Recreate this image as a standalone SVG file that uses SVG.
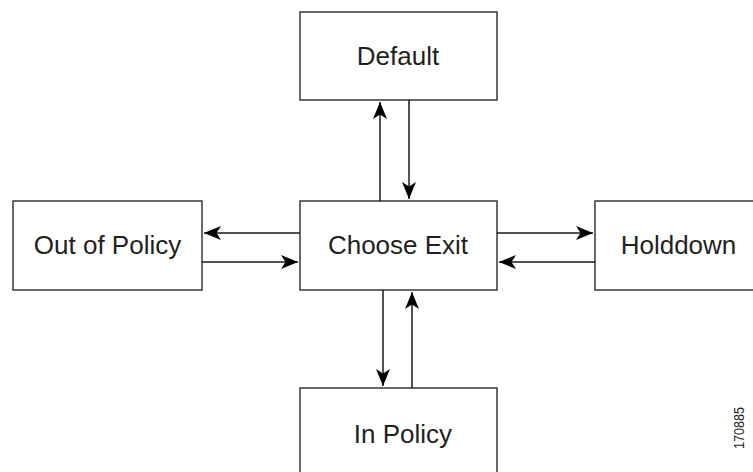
<svg xmlns="http://www.w3.org/2000/svg" width="753" height="472" viewBox="0 0 753 472">
<style>
.box{fill:#fff;stroke:#2a2a2a;stroke-width:1.4}
.lbl{font-family:"Liberation Sans",Arial,Helvetica,sans-serif;font-size:26px;fill:#231f20;text-anchor:middle}
.con{stroke:#1a1a1a;stroke-width:1.5;fill:none;marker-end:url(#ah)}
.fig{font-family:"Liberation Sans",Arial,Helvetica,sans-serif;font-size:15px;fill:#231f20;text-anchor:middle}
</style>
<defs>
<marker id="ah" markerUnits="userSpaceOnUse" markerWidth="19" markerHeight="16" refX="17" refY="8" orient="auto">
<path d="M0,1 L17,8 L0,15 L4.5,8 Z" fill="#000"/>
</marker>
</defs>
<rect width="753" height="472" fill="#fff"/>
<g id="default"><rect class="box" x="300" y="12" width="197" height="88"/><text class="lbl" x="398" y="65">Default</text></g>
<g id="choose-exit"><rect class="box" x="300" y="201" width="197" height="89"/><text class="lbl" x="398" y="254">Choose Exit</text></g>
<g id="out-of-policy"><rect class="box" x="13" y="201" width="189" height="89"/><text class="lbl" x="107.5" y="254">Out of Policy</text></g>
<g id="holddown"><rect class="box" x="595" y="201" width="170" height="89"/><text class="lbl" x="678.5" y="254">Holddown</text></g>
<g id="in-policy"><rect class="box" x="300" y="388" width="197" height="100"/><text class="lbl" x="403" y="443">In Policy</text></g>
<g id="connectors">
<line class="con" x1="380" y1="201" x2="380" y2="102"/>
<line class="con" x1="409" y1="100" x2="409" y2="199"/>
<line class="con" x1="300" y1="233" x2="204" y2="233"/>
<line class="con" x1="202" y1="262" x2="298" y2="262"/>
<line class="con" x1="497" y1="233" x2="593" y2="233"/>
<line class="con" x1="595" y1="262" x2="499" y2="262"/>
<line class="con" x1="383" y1="290" x2="383" y2="386"/>
<line class="con" x1="412" y1="388" x2="412" y2="292"/>
</g>
<text class="fig" transform="translate(744,428) rotate(-90)" textLength="42" lengthAdjust="spacingAndGlyphs">170885</text>
</svg>
